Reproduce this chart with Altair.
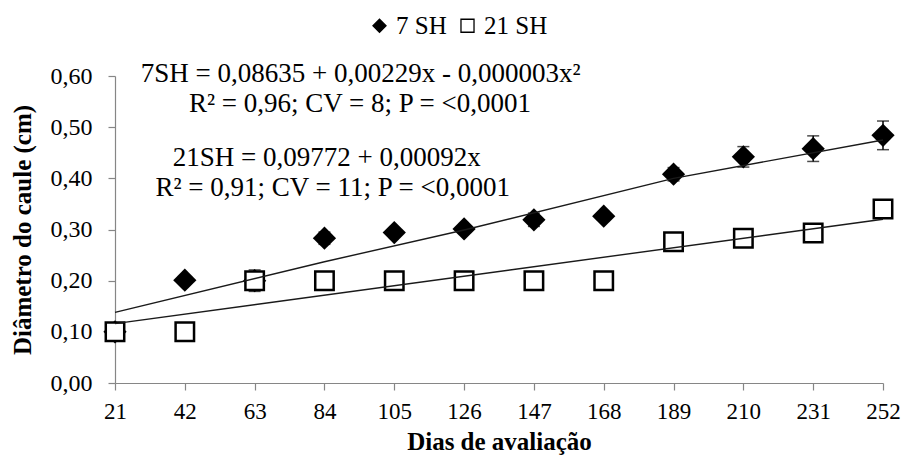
import altair as alt
import pandas as pd

# ---- data ----
dias = [21, 42, 63, 84, 105, 126, 147, 168, 189, 210, 231, 252]
sh7 = [0.100, 0.201, 0.200, 0.283, 0.294, 0.301, 0.319, 0.326, 0.408, 0.442, 0.458, 0.484]
sh7_erro = [0.005, 0.005, 0.021, 0.012, 0.008, 0.006, 0.013, 0.005, 0.013, 0.020, 0.025, 0.028]
sh21 = [0.100, 0.100, 0.200, 0.200, 0.200, 0.200, 0.200, 0.200, 0.276, 0.283, 0.293, 0.340]

trend7_dias = [21, 84, 126, 189, 252]
trend7_vals = [0.138, 0.237, 0.299, 0.400, 0.475]
trend21_dias = [21, 252]
trend21_vals = [0.116, 0.320]

series = ["7 SH", "21 SH"]
eq_texts = [
    "7SH = 0,08635 + 0,00229x - 0,000003x²",
    "R² = 0,96; CV = 8; P = <0,0001",
    "21SH = 0,09772 + 0,00092x",
    "R² = 0,91; CV = 11; P = <0,0001",
]
eq_x = [94.9, 94.7, 84.7, 86.5]
eq_y = [0.604, 0.546, 0.440, 0.381]

y_ticks = [0.0, 0.1, 0.2, 0.3, 0.4, 0.5, 0.6]

# ---- tables ----
pts = pd.DataFrame({
    "dia": dias * 2,
    "valor": sh7 + sh21,
    "erro": sh7_erro + [0.0] * len(sh21),
    "serie": [series[0]] * len(dias) + [series[1]] * len(dias),
})
pts["lo"] = pts["valor"] - pts["erro"]
pts["hi"] = pts["valor"] + pts["erro"]

trend = pd.DataFrame({
    "dia": trend7_dias + trend21_dias,
    "valor": trend7_vals + trend21_vals,
    "serie": [series[0]] * len(trend7_dias) + [series[1]] * len(trend21_dias),
})
eqs = pd.DataFrame({"dia": eq_x, "valor": eq_y, "txt": eq_texts})

FONT = "Liberation Serif"

xs = alt.Scale(domain=[21, 252], nice=False, zero=False)
ys = alt.Scale(domain=[0, 0.6], nice=False)

x_enc = alt.X("dia:Q", scale=xs, axis=alt.Axis(
    values=dias, format="d", title="Dias de avaliação", grid=False, labelFlush=False,
    labelFontSize=23, labelPadding=10, titleY=66, titleBaseline="alphabetic"))
y_enc = alt.Y("valor:Q", scale=ys, axis=alt.Axis(
    values=y_ticks, labelExpr="replace(format(datum.value, '.2f'), '.', ',')",
    title="Diâmetro do caule (cm)", grid=False, labelPadding=16, labelFlush=False,
    titleX=-80, titleY=153.5, titleAngle=270, titleBaseline="bottom", titleAlign="center"))

leg = alt.Legend(orient="none", legendX=252, legendY=-63, direction="horizontal",
                 title=None, labelFont=FONT, labelFontSize=25, labelColor="black",
                 symbolSize=170, symbolStrokeColor="black", symbolStrokeWidth=1.3,
                 columnPadding=8, labelOffset=4, padding=0)

shape_enc = alt.Shape("serie:N", scale=alt.Scale(domain=series, range=["diamond", "square"]), legend=leg)
fill_enc = alt.Fill("serie:N", scale=alt.Scale(domain=series, range=["black", "white"]), legend=leg)
stroke_enc = alt.Stroke("serie:N", scale=alt.Scale(domain=series, range=["black", "black"]), legend=leg)

base = alt.Chart(pts)
sh7_only = alt.datum.serie == series[0]

err_rule = base.transform_filter(sh7_only).mark_rule(
    color="black", strokeWidth=1.5).encode(
    x=x_enc, y=alt.Y("lo:Q", scale=ys), y2="hi:Q")
cap_lo = base.transform_filter(sh7_only).mark_tick(
    color="black", thickness=1.5, size=12, orient="horizontal").encode(
    x=x_enc, y=alt.Y("lo:Q", scale=ys))
cap_hi = base.transform_filter(sh7_only).mark_tick(
    color="black", thickness=1.5, size=12, orient="horizontal").encode(
    x=x_enc, y=alt.Y("hi:Q", scale=ys))

diamonds = base.transform_filter(sh7_only).mark_point(
    filled=True, size=540, strokeWidth=0, opacity=1).encode(
    x=x_enc, y=y_enc, shape=shape_enc, fill=fill_enc, stroke=stroke_enc)
squares = base.transform_filter(alt.datum.serie == series[1]).mark_point(
    filled=True, size=340, strokeWidth=2.5, opacity=1).encode(
    x=x_enc, y=y_enc, shape=shape_enc, fill=fill_enc, stroke=stroke_enc)

lines = alt.Chart(trend).mark_line(color="#1a1a1a", strokeWidth=1.4).encode(
    x=x_enc, y=y_enc, detail="serie:N")

texts = alt.Chart(eqs).mark_text(font=FONT, fontSize=27, align="center", baseline="middle",
                                  color="black").encode(x=x_enc, y=y_enc, text="txt:N")

chart = alt.layer(err_rule, cap_lo, cap_hi, diamonds, squares, lines, texts).properties(
    width=768, height=307,
    autosize=alt.AutoSizeParams(type="none"),
    padding={"left": 107, "top": 68, "right": 18, "bottom": 72},
).configure_view(stroke=None).configure_axis(
    domainColor="#868686", tickColor="#868686", tickSize=7, domainWidth=1.2, tickWidth=1.2,
    labelFont=FONT, labelFontSize=24, labelColor="black",
    titleFont=FONT, titleFontSize=25, titleFontWeight="bold", titleColor="black",
)

chart.save("out.html", embed_options={"renderer": "svg", "actions": False})
